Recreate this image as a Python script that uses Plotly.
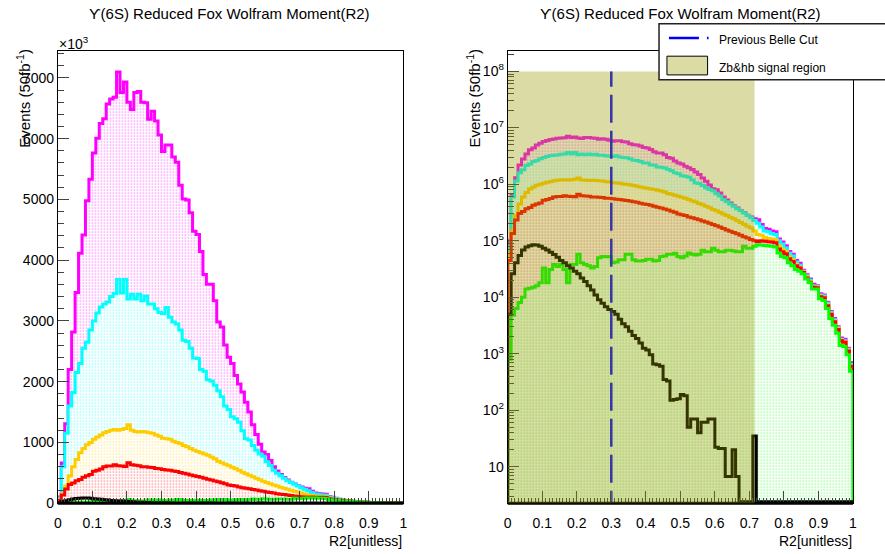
import plotly.graph_objects as go

W, H = 885, 554

# ---------------- data (events per bin, in units of 10^3) ----------------
n_bins = 100
r2_low, r2_high = 0.0, 1.0

magenta_k = [100, 660, 1307, 2198, 2819, 3467, 4115, 4412, 4979, 5330,
             5762, 6005, 6248, 6329, 6572, 6653, 6680, 7096, 6760, 6934,
             6600, 6480, 6760, 6777, 6600, 6590, 6318, 6453, 6291, 6059,
             5789, 5897, 5897, 5697, 5611, 5233, 5006, 4990, 4779, 4477,
             4423, 4142, 3764, 3602, 3602, 3332, 2981, 2900, 2603, 2400,
             2300, 2100, 1960, 1830, 1660, 1500, 1290, 1130, 970, 840,
             800, 700, 600, 530, 470, 420, 380, 345, 315, 285,
             265, 245, 235, 195, 165, 160, 150, 145, 108, 95,
             82, 65, 58, 45, 40, 30, 25, 21, 17, 16,
             11.5, 11, 8.2, 5.6, 4.2, 3.0, 1.9, 1.8, 1.25, 0.7]

cyan_k = [80, 600, 1150, 1600, 1820, 2150, 2300, 2550, 2650, 2850,
          3000, 3130, 3230, 3280, 3310, 3400, 3450, 3680, 3460, 3680,
          3360, 3440, 3360, 3440, 3330, 3410, 3280, 3280, 3200, 3140,
          3120, 3220, 3060, 2980, 2950, 2850, 2680, 2660, 2550, 2390,
          2380, 2200, 2170, 2030, 2010, 1940, 1850, 1750, 1600, 1540,
          1420, 1390, 1330, 1190, 1060, 1040, 950, 870, 810, 770,
          680, 620, 540, 490, 450, 410, 370, 340, 310, 280,
          255, 230, 205, 175, 150, 145, 135, 130, 100, 88,
          75, 60, 54, 42, 37, 29, 24, 20, 16, 15.5,
          11, 10.5, 7.8, 5.4, 4.0, 2.9, 1.8, 1.7, 1.2, 0.65]

orange_k = [60, 150, 280, 450, 600, 720, 830, 900, 960, 1000,
            1050, 1090, 1120, 1160, 1180, 1200, 1210, 1200, 1210, 1230,
            1290, 1200, 1180, 1170, 1180, 1170, 1160, 1150, 1120, 1100,
            1070, 1060, 1050, 1020, 1000, 980, 950, 930, 900, 870,
            850, 830, 810, 790, 760, 730, 690, 665, 640, 615,
            590, 565, 540, 510, 485, 460, 435, 410, 385, 360,
            340, 320, 300, 280, 262, 245, 228, 212, 196, 182,
            168, 150, 130, 125, 115, 110, 108, 104, 82, 72,
            65, 52, 46, 38, 34, 28, 23, 19, 15.5, 15,
            10.5, 10, 7.4, 5.1, 3.8, 2.8, 1.75, 1.65, 1.15, 0.62]

red_k = [45, 135, 234, 305, 330, 370, 390, 425, 450, 470,
         525, 540, 560, 600, 610, 610, 630, 615, 610, 605,
         665, 630, 625, 615, 600, 600, 590, 585, 570, 565,
         555, 545, 540, 530, 520, 505, 490, 480, 465, 450,
         440, 425, 410, 395, 380, 365, 350, 335, 320, 300,
         290, 280, 265, 255, 245, 235, 225, 215, 205, 195,
         185, 175, 165, 155, 148, 140, 133, 126, 118, 112,
         106, 100, 97, 100, 98, 96, 95, 92, 72, 64,
         59, 48, 43, 36, 33, 27.5, 22, 18.5, 15, 14.8,
         10.2, 9.8, 7.1, 5.0, 3.7, 2.7, 1.7, 1.6, 1.12, 0.6]

green_k = [0.8, 4.8, 6.3, 8.1, 10, 14, 14.5, 15, 16, 18,
           33, 18, 31, 38, 35, 38, 31, 18, 38, 38,
           58, 41, 38, 36, 33, 35, 50, 53, 52, 53,
           41, 42, 46, 46, 58, 58, 46, 44, 44, 45,
           47, 47, 44, 45, 53, 54, 58, 58, 60, 53,
           50, 54, 61, 58, 56, 58, 68, 64, 64, 74,
           68, 64, 64, 68, 68, 66, 64, 64, 80, 74,
           74, 80, 85, 84, 83, 82, 80, 78, 61, 53,
           50, 41, 36, 31, 29, 26, 21, 18, 14, 14,
           9.4, 8.8, 6.3, 4.2, 3.2, 2.3, 1.4, 1.35, 0.96, 0.49]

black_k = [5, 26, 41, 55, 69, 78, 82, 85, 84, 80,
           74, 69, 63, 57, 51, 45, 41, 36, 33, 29,
           26, 22, 19, 16, 13.5, 11, 9, 7.8, 6.8, 6.1,
           5.6, 5.0, 4.1, 3.4, 3.0, 2.5, 2.1, 1.87, 1.55, 1.25,
           1.17, 0.96, 0.66, 0.64, 0.6, 0.35, 0.33, 0.15, 0.155, 0.16,
           0.19, 0.18, 0.05, 0.07, 0.07, 0.04, 0.061, 0.061, 0.07, 0.07,
           0.022, 0.021, 0.021, 0.0067, 0.0067, 0.02, 0.0067, 0, 0, 0,
           0, 0.035, 0, 0, 0, 0, 0, 0, 0, 0,
           0, 0, 0, 0, 0, 0, 0, 0, 0, 0,
           0, 0, 0, 0, 0, 0, 0, 0, 0, 0]

# (name, values, colour, dotted fill?)
series = [
    ("magenta", magenta_k, "#ff00ff", True),
    ("cyan", cyan_k, "#00ffff", True),
    ("orange", orange_k, "#ffcc00", True),
    ("red", red_k, "#ff0000", True),
    ("green", green_k, "#00ff00", True),
    ("black", black_k, "#000000", False),
]

title_text = "ϒ(6S) Reduced Fox Wolfram Moment(R2)"
ytitle_text = "Events (50fb<sup>-1</sup>)"
xtitle_text = "R2[unitless]"
previous_cut = 0.3
signal_region = (0.0, 0.715)
signal_top = 1e8
x_ticks = [i / 10 for i in range(11)]
x_mid_ticks = [0.05 + i / 10 for i in range(10)]
x_ticktext = ["0", "0.1", "0.2", "0.3", "0.4", "0.5", "0.6", "0.7", "0.8", "0.9", "1"]
lin_ticks = [0, 1000, 2000, 3000, 4000, 5000, 6000, 7000]
log_ticks = [10, 1e2, 1e3, 1e4, 1e5, 1e6, 1e7, 1e8]
log_ticktext = ["10", "10<sup>2</sup>", "10<sup>3</sup>", "10<sup>4</sup>", "10<sup>5</sup>",
                "10<sup>6</sup>", "10<sup>7</sup>", "10<sup>8</sup>"]

# ---------------- geometry ----------------
def px(x):
    return x / W

def py(y):
    return 1 - y / H

LEFT_DOM = [px(54.3), px(403.0)]
RIGHT_DOM = [px(508.3), px(856.7)]
Y_DOM = [py(510.5), py(51.3)]
LOG_RANGE = [0.354, 8.37]
LOG_FLOOR = 10 ** 0.38

bw = (r2_high - r2_low) / n_bins
edges = [r2_low + i * bw for i in range(n_bins + 1)]

FONT = "Liberation Sans, Arial, sans-serif"

fig = go.Figure()


def step_xy(vals, floor=0.0):
    xs = [edges[0]] + edges[:-1] + [edges[-1], edges[-1]]
    ys = [floor] + [v if v > 0 else floor for v in vals] + [vals[-1] if vals[-1] > 0 else floor, floor]
    return xs, ys


def add_hist(vals, col, filled, xa, ya, floor):
    xs, ys = step_xy(vals, floor)
    kw = {}
    if filled:
        kw = dict(fill="tozeroy", fillcolor="white",
                  fillpattern=dict(shape=".", fgcolor=col, bgcolor="white", size=3, solidity=0.22))
    fig.add_trace(go.Scatter(
        x=xs, y=ys, mode="lines", line=dict(color=col, width=3, shape="hv"),
        xaxis=xa, yaxis=ya, showlegend=False, hoverinfo="skip", **kw))


for name, vals, col, filled in series:
    add_hist(vals, col, filled, "x", "y", 0.0)

for name, vals, col, filled in series:
    add_hist([v * 1000 for v in vals], col, filled, "x2", "y2", LOG_FLOOR)

# previous Belle cut (dashed blue line)
fig.add_trace(go.Scatter(
    x=[previous_cut, previous_cut], y=[LOG_FLOOR * 0.5, signal_top], mode="lines",
    line=dict(color="#0000ff", width=2.5, dash="28px,8px"),
    xaxis="x2", yaxis="y2", showlegend=False, hoverinfo="skip"))

axis_common = dict(showline=True, mirror=True, linecolor="black", linewidth=1,
                   ticks="inside", showgrid=False, zeroline=False,
                   tickfont=dict(family=FONT, size=14, color="black"))

mid_axis = dict(showline=False, ticks="inside", ticklen=8, tickcolor="black", showgrid=False,
                zeroline=False, showticklabels=False, range=[r2_low, r2_high], tickvals=x_mid_ticks)

fig.update_layout(
    width=W, height=H, margin=dict(l=0, r=0, t=0, b=0),
    paper_bgcolor="white", plot_bgcolor="white",
    xaxis=dict(domain=LEFT_DOM, range=[r2_low, r2_high], tickvals=x_ticks, ticktext=x_ticktext,
               ticklen=12, ticklabelstandoff=7,
               minor=dict(ticks="inside", dtick=0.01, ticklen=5, tick0=0), anchor="y",
               **axis_common),
    yaxis=dict(domain=Y_DOM, range=[0, 7450], tickvals=lin_ticks, ticklen=11,
               minor=dict(ticks="inside", dtick=200, ticklen=6, tick0=0), anchor="x",
               **axis_common),
    xaxis2=dict(domain=RIGHT_DOM, range=[r2_low, r2_high], tickvals=x_ticks, ticktext=x_ticktext,
                ticklen=12, ticklabelstandoff=7,
                minor=dict(ticks="inside", dtick=0.01, ticklen=5, tick0=0), anchor="y2",
                **axis_common),
    yaxis2=dict(domain=Y_DOM, type="log", range=LOG_RANGE, tickvals=log_ticks, ticktext=log_ticktext,
                ticklen=11, minor=dict(ticks="inside", dtick="D1", ticklen=6), anchor="x2",
                **axis_common),
    xaxis3=dict(domain=LEFT_DOM, anchor="y", overlaying="x", **mid_axis),
    xaxis4=dict(domain=RIGHT_DOM, anchor="y2", overlaying="x2", **mid_axis),
)

shapes = []
# thick bottom lines (zero-level)
shapes.append(dict(type="line", xref="x domain", yref="y domain", x0=0, x1=1, y0=0, y1=0,
                   line=dict(color="black", width=3), layer="above"))
shapes.append(dict(type="line", xref="x2 domain", yref="y2 domain", x0=0, x1=1, y0=0, y1=0,
                   line=dict(color="black", width=3), layer="above"))
# signal region (semi-transparent olive, over the histograms)
shapes.append(dict(type="rect", xref="x2", yref="y2", x0=signal_region[0], x1=signal_region[1],
                   y0=LOG_FLOOR * 0.1, y1=signal_top, line=dict(width=0),
                   fillcolor="rgba(153,153,0,0.35)", layer="above"))
# legend box
shapes.append(dict(type="rect", xref="paper", yref="paper", x0=px(661), x1=px(890), y0=py(81), y1=py(24),
                   line=dict(color="#222222", width=1.5), fillcolor="white", layer="above"))
shapes.append(dict(type="line", xref="paper", yref="paper", x0=px(671), x1=px(711), y0=py(38.5), y1=py(38.5),
                   line=dict(color="#0000ff", width=2.5, dash="30px,8px"), layer="above"))
shapes.append(dict(type="rect", xref="paper", yref="paper", x0=px(669), x1=px(710), y0=py(76), y1=py(57),
                   line=dict(color="black", width=1), fillcolor="rgb(219,219,166)", layer="above"))
fig.update_layout(shapes=shapes)

ann = []
for cx in (228, 683):
    ann.append(dict(x=px(cx), y=py(13.5), xref="paper", yref="paper", text=title_text, showarrow=False,
                    xanchor="center", yanchor="middle", font=dict(family=FONT, size=15, color="black")))
for tx in (20, 474):
    ann.append(dict(x=px(tx), y=py(47), xref="paper", yref="paper", text=ytitle_text, showarrow=False,
                    textangle=-90, xanchor="center", yanchor="top", font=dict(family=FONT, size=15, color="black")))
for rx in (403, 857):
    ann.append(dict(x=px(rx), y=0, xref="paper", yref="paper", text=xtitle_text, showarrow=False,
                    xanchor="right", yanchor="bottom", yshift=-4, borderpad=0,
                    font=dict(family=FONT, size=14, color="black")))
ann.append(dict(x=px(53), y=py(44), xref="paper", yref="paper", text="×10<sup>3</sup>", showarrow=False,
                xanchor="left", yanchor="middle", font=dict(family=FONT, size=14, color="black")))
ann.append(dict(x=px(719), y=py(40.5), xref="paper", yref="paper", text="Previous Belle Cut", showarrow=False,
                xanchor="left", yanchor="middle", font=dict(family=FONT, size=12, color="black")))
ann.append(dict(x=px(719), y=py(68.5), xref="paper", yref="paper", text="Zb&amp;hb signal region", showarrow=False,
                xanchor="left", yanchor="middle", font=dict(family=FONT, size=12, color="black")))
fig.update_layout(annotations=ann)

fig.write_html("out.html")
